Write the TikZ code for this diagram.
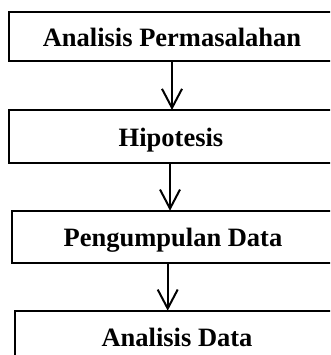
\documentclass[tikz,border=0pt]{standalone}
\usepackage{fontspec}
\setmainfont{Liberation Serif}
\usetikzlibrary{arrows.meta}
\begin{document}
\begin{tikzpicture}[x=1pt,y=1pt,
  boxnode/.style={draw, line width=2pt, inner sep=0pt, outer sep=0pt, anchor=north west},
  label/.style={anchor=base, inner sep=0pt, font=\fontsize{26.5}{30}\selectfont\bfseries},
  arr/.style={line width=2pt, -{Straight Barb[length=19pt,width=20pt,line width=2pt]}}]
\useasboundingbox (0,0) rectangle (330,355);
\clip (0,0) rectangle (330,355);
\node[boxnode, minimum width=340pt, minimum height=48.7pt] (b1) at (9,343) {};
\node[boxnode, minimum width=340pt, minimum height=52.7pt] (b2) at (9.3,245) {};
\node[boxnode, minimum width=340pt, minimum height=52pt] (b3) at (11.5,144.3) {};
\node[boxnode, minimum width=340pt, minimum height=70pt] (b4) at (14.7,44.3) {};
\node[label] (t1) at (172,308.3) {Analisis Permasalahan};
\node[label] (t2) at (171,208.3) {Hipotesis};
\node[label] (t3) at (173,108.3) {Pengumpulan Data};
\node[label] (t4) at (177,8.3) {Analisis Data};
\coordinate (x1) at (172,0);
\coordinate (x2) at (170,0);
\coordinate (x3) at (167.7,0);
\draw[arr] (b1.south -| x1) -- (b2.north -| x1);
\draw[arr] (b2.south -| x2) -- (b3.north -| x2);
\draw[arr] (b3.south -| x3) -- (b4.north -| x3);
\end{tikzpicture}
\end{document}
